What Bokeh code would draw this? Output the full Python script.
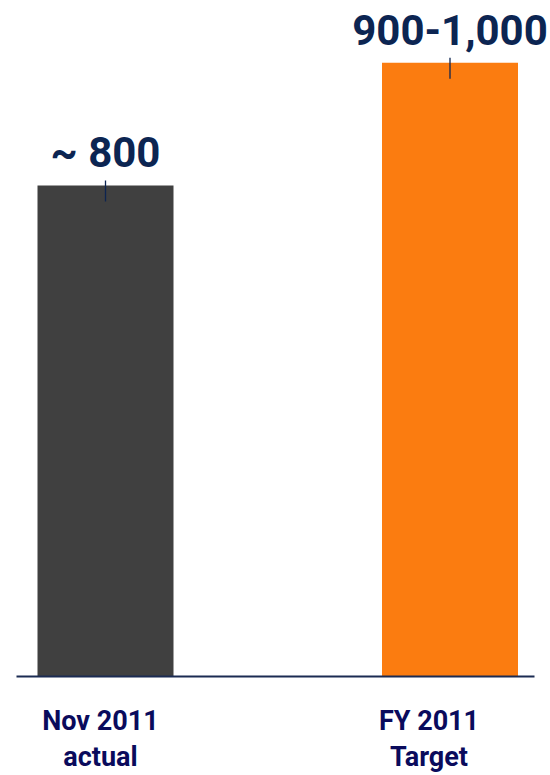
from bokeh.plotting import figure
from bokeh.models import Range1d, ColumnDataSource
from bokeh.core.properties import value
from bokeh.embed import file_html
from bokeh.resources import INLINE

categories = ["Nov 2011\nactual", "FY 2011\nTarget"]
values = [800, 1000]
value_labels = ["~ 800", "900-1,000"]
colors = ["#404040", "#FB7C10"]

W, H = 550, 775
x_pos = [i + 1 for i in range(len(values))]
px_per_x = 344.5
px_per_y = 491 / 800
base_px = 99  # baseline above bottom of figure
x_start = 1 - 105 / px_per_x
x_end = x_start + W / px_per_x
y_start = -base_px / px_per_y
y_end = (H - base_px) / px_per_y

p = figure(width=W, height=H, output_backend="svg", toolbar_location=None,
           x_range=Range1d(x_start, x_end), y_range=Range1d(y_start, y_end),
           min_border=0, min_border_left=0, min_border_right=0,
           min_border_top=0, min_border_bottom=0)
p.axis.visible = False
p.grid.visible = False
p.outline_line_color = None
p.background_fill_color = "white"

src = ColumnDataSource(dict(
    x=x_pos, top=values, color=colors, lab=value_labels,
    l1=[c.split("\n")[0] for c in categories],
    l2=[c.split("\n")[1] for c in categories],
    lx=[x - off / px_per_x for x, off in zip(x_pos, [5, 21])],
    t0=[v + 5 / px_per_y for v in values],
    t1=[v - 16 / px_per_y for v in values],
))

bar_w = 136 / px_per_x
p.vbar(x="x", top="top", bottom=0, width=bar_w, fill_color="color", line_color=None, source=src)

# baseline
p.segment(x0=[x_start + 16 / px_per_x], x1=[x_start + 534 / px_per_x], y0=[0], y1=[0],
          line_color="#1B2B52", line_width=2)

# small leader ticks
p.segment(x0="x", x1="x", y0="t0", y1="t1", source=src, line_color="#0D2450", line_width=1.3)

font = value("Roboto")
p.text(x="x", y="top", text="lab", source=src, text_font=font, text_font_style="bold",
       text_font_size="42px", text_color="#0C2552", text_align="center",
       text_baseline="alphabetic", y_offset=-33)

p.text(x="lx", y=0, text="l1", source=src, text_font=font, text_font_style="bold",
       text_font_size="27px", text_color="#0A0B5C", text_align="center",
       text_baseline="alphabetic", y_offset=44)
p.text(x="lx", y=0, text="l2", source=src, text_font=font, text_font_style="bold",
       text_font_size="27px", text_color="#0A0B5C", text_align="center",
       text_baseline="alphabetic", y_offset=80)

open("out.html", "w").write(file_html(p, INLINE))
